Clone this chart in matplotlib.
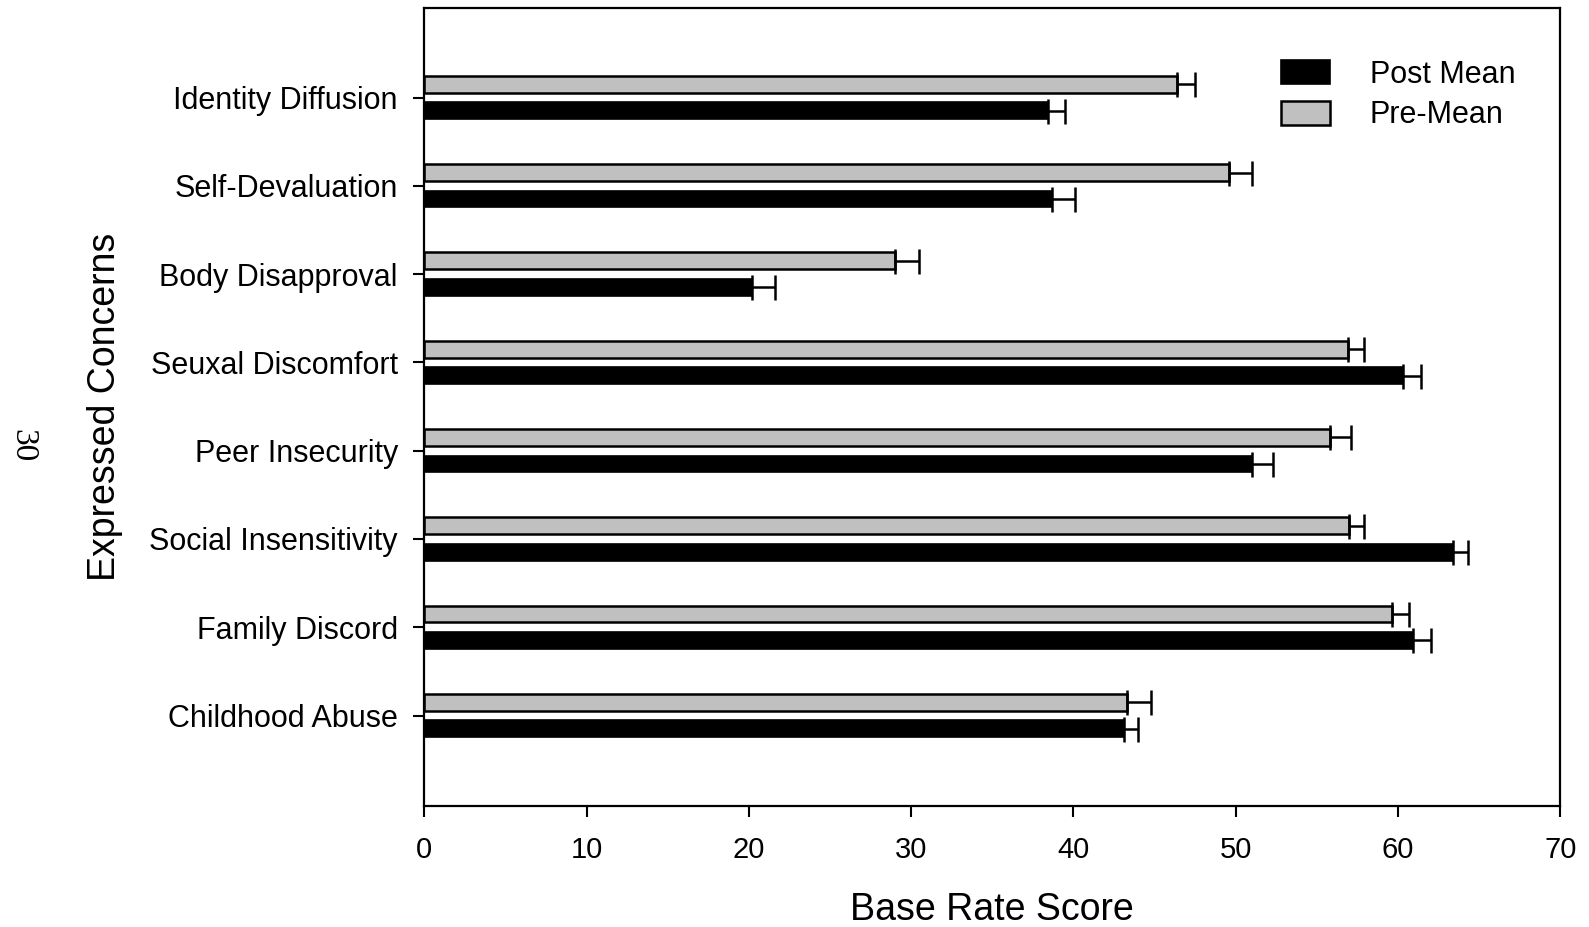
import numpy as np
import matplotlib
matplotlib.use("Agg")
import matplotlib.pyplot as plt

plt.rcParams['font.family'] = ['Liberation Sans', 'DejaVu Sans']

# categories listed bottom to top
categories = ["Childhood Abuse", "Family Discord", "Social Insensitivity",
              "Peer Insecurity", "Seuxal Discomfort", "Body Disapproval",
              "Self-Devaluation", "Identity Diffusion"]
pre_mean = [43.3, 59.6, 57.0, 55.8, 56.9, 29.0, 49.6, 46.4]
pre_err = [1.5, 1.1, 0.9, 1.3, 1.0, 1.5, 1.4, 1.1]
post_mean = [43.1, 60.9, 63.4, 51.0, 60.3, 20.2, 38.7, 38.4]
post_err = [0.9, 1.1, 0.9, 1.3, 1.1, 1.4, 1.4, 1.1]

y = np.arange(len(categories))
h = 0.19
off = 0.15

fig = plt.figure(figsize=(15.89, 9.27), dpi=100)
ax = fig.add_axes([0.267, 0.131, 0.715, 0.860])

ax.barh(y - off, post_mean, height=h, color="black", edgecolor="black",
        linewidth=1.2, label="Post Mean", zorder=2)
ax.barh(y + off, pre_mean, height=h, color="#c0c0c0", edgecolor="black",
        linewidth=1.8, label="Pre-Mean", zorder=2)

ax.errorbar(post_mean, y - off, xerr=[np.zeros(len(y)), post_err], fmt="none",
            ecolor="black", elinewidth=1.8, capsize=9, capthick=1.8, zorder=3)
ax.errorbar(pre_mean, y + off, xerr=[np.zeros(len(y)), pre_err], fmt="none",
            ecolor="black", elinewidth=1.8, capsize=9, capthick=1.8, zorder=3)

ax.set_xlim(0, 70)
ax.set_ylim(-1.02, 8.01)
ax.set_xticks(range(0, 71, 10))
ax.set_yticks(y)
ax.set_yticklabels(categories)
ax.tick_params(axis="both", labelsize=21, width=1.5, length=8, direction="out")
ax.tick_params(axis="y", labelsize=22, pad=11)
ax.tick_params(axis="x", pad=14)
for s in ax.spines.values():
    s.set_linewidth(1.6)

ax.set_xlabel("Base Rate Score", fontsize=27, labelpad=20)
ax.set_ylabel("Expressed Concerns", fontsize=27, labelpad=19)

ax.legend(loc="upper left", bbox_to_anchor=(0.73, 0.97), frameon=False,
          fontsize=22, handlelength=1.6, handleheight=0.8, handletextpad=1.3,
          labelspacing=0.35)

fig.text(0.0145, 0.519, "30", rotation=-90, fontsize=24,
         family="Liberation Serif", ha="center", va="center")

fig.savefig("out.png", dpi=100)
